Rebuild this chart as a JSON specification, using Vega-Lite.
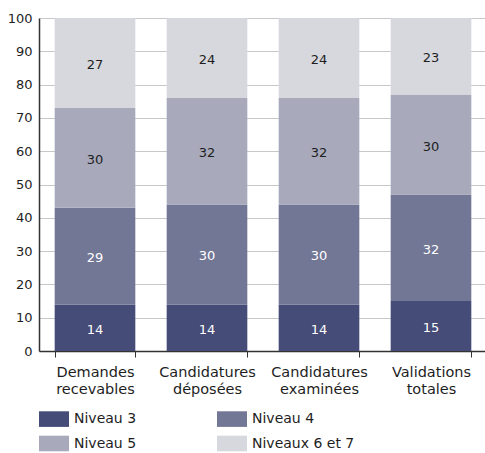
{
  "$schema": "https://vega.github.io/schema/vega-lite/v6.json",
  "autosize": {"type": "none"},
  "padding": {"left": 39, "top": 18, "right": 0, "bottom": 102},
  "width": 448,
  "height": 333,
  "config": {
    "font": "DejaVu Sans",
    "view": {"stroke": null}
  },
  "data": {
    "values": [
      {"cat": "Demandes recevables", "niveau": "Niveau 3", "ordre": 1, "v": 14},
      {"cat": "Demandes recevables", "niveau": "Niveau 4", "ordre": 2, "v": 29},
      {"cat": "Demandes recevables", "niveau": "Niveau 5", "ordre": 3, "v": 30},
      {"cat": "Demandes recevables", "niveau": "Niveaux 6 et 7", "ordre": 4, "v": 27},
      {"cat": "Candidatures déposées", "niveau": "Niveau 3", "ordre": 1, "v": 14},
      {"cat": "Candidatures déposées", "niveau": "Niveau 4", "ordre": 2, "v": 30},
      {"cat": "Candidatures déposées", "niveau": "Niveau 5", "ordre": 3, "v": 32},
      {"cat": "Candidatures déposées", "niveau": "Niveaux 6 et 7", "ordre": 4, "v": 24},
      {"cat": "Candidatures examinées", "niveau": "Niveau 3", "ordre": 1, "v": 14},
      {"cat": "Candidatures examinées", "niveau": "Niveau 4", "ordre": 2, "v": 30},
      {"cat": "Candidatures examinées", "niveau": "Niveau 5", "ordre": 3, "v": 32},
      {"cat": "Candidatures examinées", "niveau": "Niveaux 6 et 7", "ordre": 4, "v": 24},
      {"cat": "Validations totales", "niveau": "Niveau 3", "ordre": 1, "v": 15},
      {"cat": "Validations totales", "niveau": "Niveau 4", "ordre": 2, "v": 32},
      {"cat": "Validations totales", "niveau": "Niveau 5", "ordre": 3, "v": 30},
      {"cat": "Validations totales", "niveau": "Niveaux 6 et 7", "ordre": 4, "v": 23}
    ]
  },
  "transform": [
    {"stack": "v", "groupby": ["cat"], "sort": [{"field": "ordre", "order": "ascending"}], "as": ["y0", "y1"]},
    {"calculate": "(datum.y0 + datum.y1) / 2", "as": "ymid"}
  ],
  "encoding": {
    "x": {
      "field": "cat",
      "type": "nominal",
      "sort": ["Demandes recevables", "Candidatures déposées", "Candidatures examinées", "Validations totales"],
      "scale": {"paddingInner": 0.28, "paddingOuter": 0.14},
      "axis": {
        "title": null,
        "labelAngle": 0,
        "labelExpr": "split(datum.label, ' ')",
        "labelFontSize": 14.5,
        "labelColor": "#1e1e1e",
        "labelLineHeight": 17,
        "labelPadding": 8,
        "labelLimit": 200,
        "tickBand": "extent",
        "tickColor": "#333333",
        "tickSize": 6,
        "domainColor": "#333333",
        "domainWidth": 1.5
      }
    },
    "y": {
      "field": "y0",
      "type": "quantitative",
      "scale": {"domain": [0, 100]},
      "axis": {
        "title": null,
        "values": [0, 10, 20, 30, 40, 50, 60, 70, 80, 90, 100],
        "ticks": false,
        "labelPadding": 7,
        "labelFontSize": 13,
        "labelColor": "#1e1e1e",
        "grid": true,
        "gridColor": "#c8c8c8",
        "gridWidth": 1,
        "domainColor": "#333333",
        "domainWidth": 1.5
      }
    }
  },
  "layer": [
    {
      "mark": {"type": "bar"},
      "encoding": {
        "y2": {"field": "y1"},
        "color": {
          "field": "niveau",
          "type": "nominal",
          "scale": {
            "domain": ["Niveau 3", "Niveau 4", "Niveau 5", "Niveaux 6 et 7"],
            "range": ["#454c78", "#737796", "#a8aabb", "#d6d8dd"]
          },
          "legend": {
            "title": null,
            "orient": "none",
            "direction": "horizontal",
            "legendX": 5,
            "legendY": 391,
            "columns": 2,
            "gridAlign": "all",
            "columnPadding": 40,
            "rowPadding": 6.5,
            "padding": 0,
            "symbolType": "M-1.5,-0.78H1.5V0.78H-1.5Z",
            "symbolSize": 400,
            "symbolStrokeWidth": 0,
            "symbolOpacity": 1,
            "labelOffset": 10,
            "labelFontSize": 14,
            "labelColor": "#1e1e1e",
            "labelLimit": 200
          }
        }
      }
    },
    {
      "mark": {"type": "text", "fontSize": 13, "baseline": "middle", "dy": 2},
      "encoding": {
        "y": {"field": "ymid", "type": "quantitative"},
        "text": {"field": "v", "type": "quantitative"},
        "color": {
          "condition": {"test": "datum.ordre <= 2", "value": "#ffffff"},
          "value": "#1e1e1e"
        }
      }
    }
  ]
}
